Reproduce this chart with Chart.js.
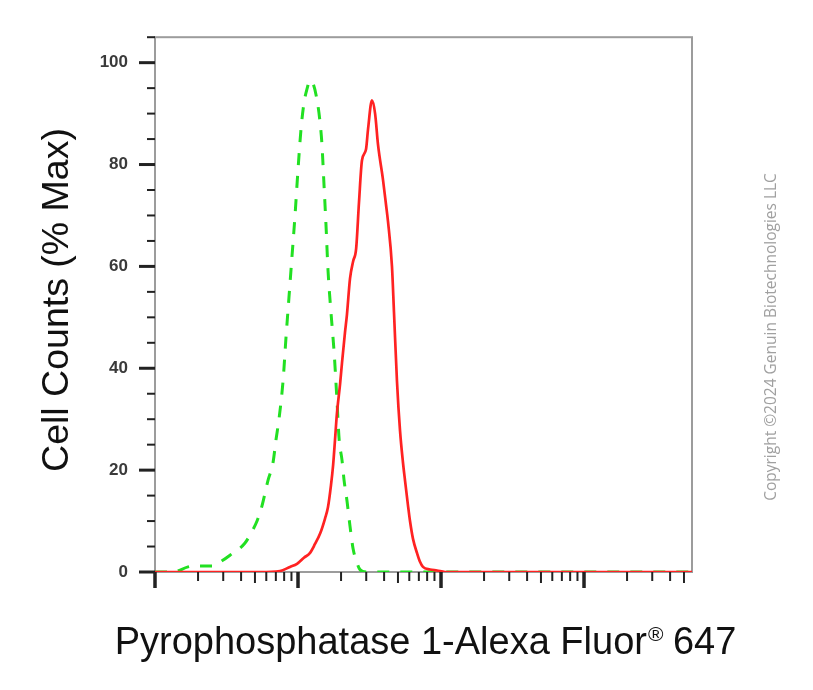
<!DOCTYPE html>
<html>
<head>
<meta charset="utf-8">
<script src="https://cdn.jsdelivr.net/npm/chart.js@4.4.1/dist/chart.umd.min.js"></script>
<style>
  body { margin: 0; background: #fff; }
  #wrap { width: 813px; height: 690px; }
</style>
</head>
<body>
<div id="wrap"><canvas id="histChart" width="813" height="690"></canvas></div>
<script>
// control (isotype) histogram - green dashed
const controlX = [1, 1.336, 1.701, 1.905, 2.545, 2.941, 3.345, 4.26, 4.77, 5.17, 5.60, 6.17, 6.69, 7.02, 7.36, 7.86, 8.24, 8.65, 9.08, 9.53, 10.0, 10.5, 11.0, 11.6, 12.1, 12.7, 13.6, 14.3, 14.7, 15.2, 15.7, 16.2, 17.0, 17.9, 18.7, 19.4, 20.3, 21.0, 22.0, 23.1, 24.3, 25.5, 27.1, 29.9, 5690];
const controlY = [0, 0, 1.0, 1.2, 1.2, 2.2, 3.3, 5.7, 8, 10, 13, 18, 21.5, 26, 30, 37.5, 46, 54, 62, 70, 79, 87, 92, 95, 96.5, 96, 92.6, 88, 84, 76, 68, 59.4, 51, 43, 34, 26, 22, 18, 14, 9, 4.5, 2.3, 0.5, 0, 0];

// stained sample - red solid
const stainedX = [1, 5.42, 7.48, 8.79, 9.84, 11.0, 12.1, 13.15, 14.3, 15.45, 16.2, 17.0, 17.6, 18.15, 18.7, 19.7, 20.3, 21.3, 22.0, 23.1, 24.3, 25.5, 26.7, 28.0, 29.9, 30.9, 32.9, 34.6, 36.3, 39.3, 41.3, 42.6, 45.4, 46.9, 49.2, 51.7, 54.2, 56.0, 58.8, 60.7, 63.7, 68.0, 71.3, 74.8, 83.8, 93.8, 106.7, 5690];
const stainedY = [0, 0, 0.2, 1, 1.6, 2.8, 3.7, 5.5, 7.6, 10.5, 12.7, 17, 21, 26, 31, 37, 41, 47, 50.6, 57.6, 61, 63.5, 72.6, 80.8, 83, 87, 92.6, 90, 83.8, 77, 72, 68.8, 60, 51, 37.5, 27.7, 21.5, 18, 13, 10, 6.5, 3.7, 2, 1, 0.5, 0.3, 0, 0];

const yTickLabels = [0, 20, 40, 60, 80, 100];
const xRange = [1, 5690];
const yRange = [0, 105];

const xTitle = 'Pyrophosphatase 1-Alexa Fluor';
const xTitleMark = '\u00AE';
const xTitleEnd = ' 647';
const yTitle = 'Cell Counts (% Max)';
const copyright = 'Copyright \u00A92024 Genuin Biotechnologies LLC';

function toPoints(xs, ys) {
  return xs.map((x, i) => ({ x, y: ys[i] }));
}

const axisDecor = {
  id: 'axisDecor',
  beforeDatasetsDraw(chart) {
    const { ctx, chartArea: a } = chart;
    ctx.save();
    ctx.strokeStyle = '#9c9c9c';
    ctx.lineWidth = 2;
    ctx.strokeRect(a.left, a.top, a.right - a.left, a.bottom - a.top);
    ctx.restore();
  },
  afterDraw(chart) {
    const { ctx, chartArea: a, scales: { x, y } } = chart;
    ctx.save();
    ctx.strokeStyle = '#222';

    // y tick marks
    y.ticks.forEach(t => {
      const py = y.getPixelForValue(t.value);
      const major = yTickLabels.includes(t.value);
      ctx.lineWidth = major ? 3 : 2;
      ctx.beginPath();
      ctx.moveTo(a.left - (major ? 16 : 8), py);
      ctx.lineTo(a.left, py);
      ctx.stroke();
    });

    // x tick marks (log decades)
    for (let dec = xRange[0]; dec <= xRange[1]; dec *= 10) {
      for (let m = 1; m < 10; m++) {
        const v = dec * m;
        if (v > xRange[1]) break;
        const px = x.getPixelForValue(v);
        const len = m === 1 ? 16 : (m === 5 ? 11 : 9);
        ctx.lineWidth = m === 1 ? 3.5 : 2;
        ctx.beginPath();
        ctx.moveTo(px, a.bottom);
        ctx.lineTo(px, a.bottom + len);
        ctx.stroke();
      }
    }

    // x title with superscript mark
    ctx.fillStyle = '#111';
    ctx.textBaseline = 'alphabetic';
    ctx.textAlign = 'left';
    const big = '38px "Liberation Sans", Arial, sans-serif';
    const small = '21px "Liberation Sans", Arial, sans-serif';
    ctx.font = big;
    const w1 = ctx.measureText(xTitle).width;
    const w3 = ctx.measureText(xTitleEnd).width;
    ctx.font = small;
    const w2 = ctx.measureText(xTitleMark).width;
    const sx = (a.left + a.right) / 2 + 2 - (w1 + w2 + w3) / 2;
    const base = 654;
    ctx.font = big;
    ctx.fillText(xTitle, sx, base);
    ctx.font = small;
    ctx.fillText(xTitleMark, sx + w1 + 1, base - 13);
    ctx.font = big;
    ctx.fillText(xTitleEnd, sx + w1 + w2, base);

    // y title
    ctx.save();
    ctx.translate(68, 300);
    ctx.rotate(-Math.PI / 2);
    ctx.textAlign = 'center';
    ctx.font = '37.5px "Liberation Sans", Arial, sans-serif';
    ctx.fillText(yTitle, 0, 0);
    ctx.restore();

    // copyright
    ctx.save();
    ctx.translate(776, 337);
    ctx.rotate(-Math.PI / 2);
    ctx.textAlign = 'center';
    ctx.font = '15.5px "Open Sans", sans-serif';
    ctx.fillStyle = '#a0a0a0';
    ctx.fillText(copyright, 0, 0);
    ctx.restore();

    ctx.restore();
  }
};

new Chart(document.getElementById('histChart'), {
  type: 'line',
  data: {
    datasets: [
      {
        label: 'Pyrophosphatase 1',
        data: toPoints(stainedX, stainedY),
        borderColor: '#ff2222',
        borderWidth: 2.7,
        pointRadius: 0,
        cubicInterpolationMode: 'monotone',
        fill: false
      },
      {
        label: 'Control',
        data: toPoints(controlX, controlY),
        borderColor: '#22e022',
        borderWidth: 3,
        borderDash: [12, 11],
        pointRadius: 0,
        cubicInterpolationMode: 'monotone',
        fill: false
      }
    ]
  },
  options: {
    responsive: false,
    animation: false,
    layout: { padding: { top: 34, right: 121, left: 0, bottom: 0 } },
    plugins: { legend: { display: false }, tooltip: { enabled: false } },
    scales: {
      x: {
        type: 'logarithmic',
        min: xRange[0],
        max: xRange[1],
        grid: { display: false, drawTicks: false },
        border: { display: false },
        ticks: { display: false },
        afterFit: s => { s.height = 118; }
      },
      y: {
        type: 'linear',
        min: yRange[0],
        max: yRange[1],
        grid: { display: false, drawTicks: false },
        border: { display: false },
        ticks: {
          stepSize: 5,
          autoSkip: false,
          padding: 27,
          color: '#3a3a3a',
          font: { family: '"Liberation Sans", Arial, sans-serif', size: 17, weight: 'bold' },
          callback: v => yTickLabels.includes(v) ? String(v) : ''
        },
        afterFit: s => { s.width = 155; }
      }
    }
  },
  plugins: [axisDecor]
});
</script>
</body>
</html>
